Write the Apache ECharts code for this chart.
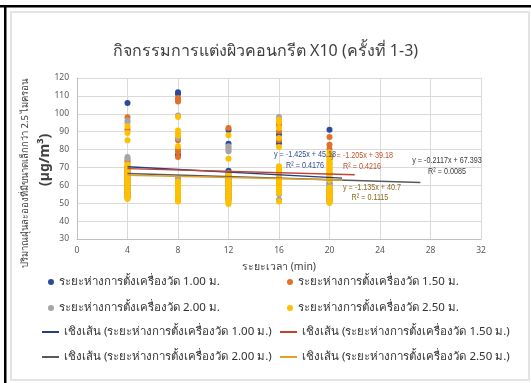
<!DOCTYPE html>
<html>
<head>
<meta charset="utf-8">
<script src="https://cdn.jsdelivr.net/npm/echarts@6/dist/echarts.min.js"></script>
<style>
  html, body { margin: 0; padding: 0; background: #ffffff; }
  #chart { width: 531px; height: 383px; }
</style>
</head>
<body>
<div id="chart"></div>
<script>
// Measurement times (min)
const times = [4, 8, 12, 16, 20];
const xTicks = [0, 4, 8, 12, 16, 20, 24, 28, 32];
const yTicks = [30, 40, 50, 60, 70, 80, 90, 100, 110, 120];

const seriesNames = [
  'ระยะห่างการตั้งเครื่องวัด 1.00 ม.',
  'ระยะห่างการตั้งเครื่องวัด 1.50 ม.',
  'ระยะห่างการตั้งเครื่องวัด 2.00 ม.',
  'ระยะห่างการตั้งเครื่องวัด 2.50 ม.'
];
const trendNames = seriesNames.map(n => 'เชิงเส้น (' + n + ')');

// PM2.5 readings (µg/m³), one list per measurement time
const pm100 = [
  [106, 70, 68, 66, 64, 62, 60, 58, 56, 54],
  [112, 111, 77, 62, 60, 58, 56, 54, 52],
  [91, 83.3, 68.2, 65, 63, 61, 59, 57, 55, 53],
  [88.3, 83.7, 66, 64, 62, 60, 58, 56],
  [91.1, 66.5, 63, 61, 58, 56, 54, 52]
];
const pm150 = [
  [98, 91.1, 74, 72.9, 69, 67, 65, 63, 61, 59, 57, 55, 53],
  [108.8, 107.9, 106.8, 85.2, 79.9, 78.8, 75.8, 61, 59, 57, 55, 53],
  [92, 66, 64, 62, 60, 58, 56, 54, 52],
  [93.9, 90.2, 85.2, 69, 65, 63, 61, 59, 57],
  [87, 82.7, 80.3, 59.4, 57, 55, 53, 51]
];
const pm200 = [
  [96.3, 95.2, 75.8, 75, 71, 68, 66, 63, 60, 57, 54],
  [99.1, 86.5, 64.1, 63.2, 61, 58, 55, 52],
  [81.8, 80.9, 79.9, 79, 66.9, 64, 61, 58, 55, 52],
  [98.2, 70, 67, 64, 61, 58, 55, 52],
  [76, 72, 69, 64, 60, 57, 54, 51]
];
const pm250 = [
  [93, 89.3, 85.2, 71.6, 70.6, 69.8, 68.7, 67.9, 66.8, 66.1, 65.2, 64.3, 63.5, 62.4, 61.7, 60.6, 59.8, 58.9, 58.1, 57.2, 56.4, 55.5, 54.7, 53.8, 53.1, 52.4],
  [98.2, 90.7, 89.3, 87.8, 81.8, 62.2, 61.3, 60.4, 59.6, 58.7, 57.9, 57.0, 56.1, 55.4, 54.6, 53.7, 52.9, 52.1, 51.3, 50.9],
  [88, 74.9, 66.0, 65.1, 64.2, 63.3, 62.5, 61.6, 60.7, 59.8, 58.9, 58.1, 57.3, 56.4, 55.5, 54.7, 53.8, 52.9, 52.1, 51.2, 50.4, 49.6],
  [96.7, 95.2, 92, 86.5, 81.4, 70.6, 69.3, 68.2, 66.9, 66.0, 65.1, 64.2, 63.3, 62.4, 61.6, 60.7, 59.8, 58.9, 58.1, 57.2, 56.4, 55.7, 51.0],
  [78.4, 77.1, 75.8, 74.4, 73.5, 72.5, 71.6, 70.6, 69.7, 68.8, 67.9, 67.1, 66.2, 65.3, 64.4, 63.6, 62.8, 58.6, 57.7, 56.8, 55.9, 55.1, 54.2, 53.3, 52.5, 51.6, 50.8, 50.1]
];

// Linear trendlines as drawn: slope, intercept, first and last x
const trendSlope = [-0.37, -0.19, -0.2117, -0.15];
const trendIntercept = [71.8, 70.1, 67.393, 66.2];
const trendStart = [4, 4, 4, 4];
const trendEnd = [21, 22, 27.2, 21];

// Trendline equation labels
const trendEq = ['y = -1.425x + 45.18', 'y = -1.205x + 39.18', 'y = -0.2117x + 67.393', 'y = -1.135x + 40.7'];
const trendR2 = ['R² = 0.4176', 'R² = 0.4216', 'R² = 0.0085', 'R² = 0.1115'];

const dotColors = ['#2A4A9C', '#E0702A', '#A5A5A5', '#FFC000'];
const lineColors = ['#263F84', '#C0432E', '#595959', '#DFA12C'];
const eqColors = ['#2E4F92', '#C0532A', '#3A3A3A', '#8C6A1E'];

const FONT = '"Noto Sans", "DejaVu Sans", sans-serif';
const NUMFONT = '"Liberation Sans", Arial, sans-serif';
const allPm = [pm100, pm150, pm200, pm250];

function toPoints(perTime) {
  const pts = [];
  perTime.forEach((vals, i) => vals.forEach(v => pts.push([times[i], v])));
  return pts;
}

const series = [];
allPm.forEach((pm, k) => {
  series.push({
    name: seriesNames[k],
    type: 'scatter',
    symbol: 'circle',
    symbolSize: 6,
    itemStyle: { color: dotColors[k], opacity: 1 },
    data: toPoints(pm),
    z: 3
  });
});
trendSlope.forEach((m, k) => {
  const b = trendIntercept[k];
  series.push({
    name: trendNames[k],
    type: 'line',
    showSymbol: false,
    symbol: 'none',
    lineStyle: { color: lineColors[k], width: 1.5 },
    itemStyle: { color: lineColors[k] },
    data: [[trendStart[k], m * trendStart[k] + b], [trendEnd[k], m * trendEnd[k] + b]],
    z: 4,
    silent: true
  });
});

// Legend placement: one legend box per entry
const legendSpots = [
  { name: seriesNames[0], left: 48, cy: 282, dot: true },
  { name: seriesNames[1], left: 287, cy: 282, dot: true },
  { name: seriesNames[2], left: 48, cy: 308, dot: true },
  { name: seriesNames[3], left: 287, cy: 308, dot: true },
  { name: trendNames[0], left: 42, cy: 332, dot: false },
  { name: trendNames[1], left: 280, cy: 332, dot: false },
  { name: trendNames[2], left: 42, cy: 357, dot: false },
  { name: trendNames[3], left: 280, cy: 357, dot: false }
];
const legends = legendSpots.map(s => ({
  data: [{ name: s.name, icon: s.dot ? 'circle' : 'rect' }],
  left: s.left,
  top: s.cy - 8,
  itemWidth: s.dot ? 6 : 17,
  itemHeight: s.dot ? 6 : 2,
  itemGap: 5,
  padding: 0,
  selectedMode: false,
  textStyle: { fontFamily: FONT, fontSize: 11.5, color: '#333333', lineHeight: 16, padding: [0, 0, 0, 0] }
}));

// Equation label placement (centre x, centre y), drawn slightly condensed
const eqSpots = [
  [305, 155, 305, 166],
  [362, 156, 362, 167],
  [447, 161, 447, 172],
  [372, 188, 370, 198]
];
const eqGraphics = [];
eqSpots.forEach((p, k) => {
  eqGraphics.push({
    type: 'text', x: p[0], y: p[1], z: 10, scaleX: 0.8,
    style: { text: trendEq[k], fill: eqColors[k], font: '9px ' + NUMFONT, textAlign: 'center', textVerticalAlign: 'middle' }
  });
  eqGraphics.push({
    type: 'text', x: p[2], y: p[3], z: 10, scaleX: 0.8,
    style: { text: trendR2[k], fill: eqColors[k], font: '9px ' + NUMFONT, textAlign: 'center', textVerticalAlign: 'middle' }
  });
});

const chart = echarts.init(document.getElementById('chart'), null, { renderer: 'canvas' });
chart.setOption({
  backgroundColor: '#ffffff',
  animation: false,
  title: {
    text: 'กิจกรรมการแต่งผิวคอนกรีต X10 (ครั้งที่ 1-3)',
    left: 'center',
    top: 38,
    textStyle: { fontFamily: FONT, fontSize: 16, fontWeight: 'normal', color: '#404040' }
  },
  legend: legends,
  grid: { left: 77, right: 50, top: 78, bottom: 144, containLabel: false },
  xAxis: {
    type: 'value',
    min: xTicks[0],
    max: xTicks[xTicks.length - 1],
    interval: 4,
    name: 'ระยะเวลา (min)',
    nameLocation: 'middle',
    nameGap: 23,
    nameTextStyle: { fontFamily: FONT, fontSize: 10.5, color: '#404040' },
    axisLine: { show: true, lineStyle: { color: '#BFBFBF' } },
    axisTick: { show: false },
    axisLabel: { fontFamily: FONT, fontSize: 8.5, color: '#595959', margin: 7 },
    splitLine: { show: true, lineStyle: { color: '#D9D9D9', width: 1 } }
  },
  yAxis: {
    type: 'value',
    min: yTicks[0],
    max: yTicks[yTicks.length - 1],
    interval: 10,
    axisLine: { show: true, lineStyle: { color: '#BFBFBF' } },
    axisTick: { show: false },
    axisLabel: { fontFamily: FONT, fontSize: 8.5, color: '#595959', margin: 8 },
    splitLine: { show: true, lineStyle: { color: '#D9D9D9', width: 1 } }
  },
  graphic: [
    // outer frame
    { type: 'rect', shape: { x: 11, y: 12, width: 518, height: 368 }, style: { fill: 'none', stroke: '#E3E3E3', lineWidth: 2 }, z: -1 },
    { type: 'rect', shape: { x: 0, y: 5, width: 531, height: 2.5 }, style: { fill: '#000000' } },
    { type: 'rect', shape: { x: 4, y: 5, width: 2.5, height: 378 }, style: { fill: '#000000' } },
    // y-axis title, two rotated lines reading bottom to top
    {
      type: 'text', x: 25, y: 268, rotation: Math.PI / 2, z: 10,
      style: { text: 'ปริมาณฝุ่นละอองที่มีขนาดเล็กกว่า 2.5 ไมครอน', fill: '#404040', font: '9.5px ' + FONT, textAlign: 'left', textVerticalAlign: 'middle' }
    },
    {
      type: 'text', x: 45, y: 186, rotation: Math.PI / 2, z: 10,
      style: { text: '(µg/m³)', fill: '#404040', font: 'bold 14px ' + FONT, textAlign: 'left', textVerticalAlign: 'middle' }
    }
  ].concat(eqGraphics),
  series: series
});
</script>
</body>
</html>
